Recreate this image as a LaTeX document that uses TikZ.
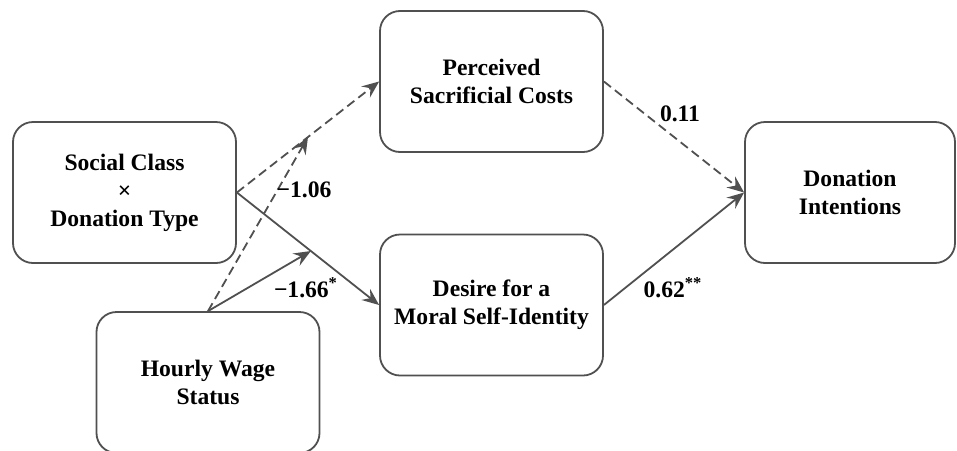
\documentclass[tikz,border=0pt]{standalone}
\usepackage{fontspec}
\setmainfont{Liberation Serif}
\usetikzlibrary{arrows.meta,calc}
\definecolor{linegray}{HTML}{505050}
\begin{document}
\begin{tikzpicture}[
  x=0.5pt, y=-0.5pt,
  font=\fontsize{11.8}{14}\selectfont\bfseries,
  box/.style={draw=linegray, line width=0.9pt, rounded corners=10pt, align=center, minimum width=111.5pt, minimum height=70.5pt, inner sep=0pt},
  arrow/.style={-{Stealth[length=8.5pt, width=7pt, inset=3pt]}, draw=linegray, line width=0.9pt},
  dashline/.style={arrow, dash pattern=on 4.5pt off 2.5pt}
]
\useasboundingbox (0,0) rectangle (957,450);
\node[box] (soc) at (124.5,192.5) {Social Class\\×\\Donation Type};
\node[box] (hws) at (208,382.5) {Hourly Wage\\Status};
\node[box] (psc) at (491.5,81.5) {Perceived\\Sacrificial Costs};
\node[box] (dmi) at (491.5,305) {Desire for a\\Moral Self-Identity};
\node[box, minimum width=105pt] (din) at (850,192.5) {Donation\\Intentions};
\coordinate (mpsc) at ($(soc.east)!0.5!(psc.west)$);
\coordinate (mdmi) at ($(soc.east)!0.52!(dmi.west)$);
\draw[dashline] (soc.east) -- (psc.west);
\draw[arrow] (soc.east) -- (dmi.west);
\draw[dashline] (hws.north) -- (mpsc);
\draw[arrow] (hws.north) -- (mdmi);
\draw[dashline] (psc.east) -- (din.west);
\draw[arrow] (dmi.east) -- (din.west);
\node (l106) at (304,190) {−1.06};
\node (l166) at (306,288) {−1.66\textsuperscript{*}};
\node (l011) at (680,114) {0.11};
\node (l062) at (673,288) {0.62\textsuperscript{**}};
\end{tikzpicture}
\end{document}
